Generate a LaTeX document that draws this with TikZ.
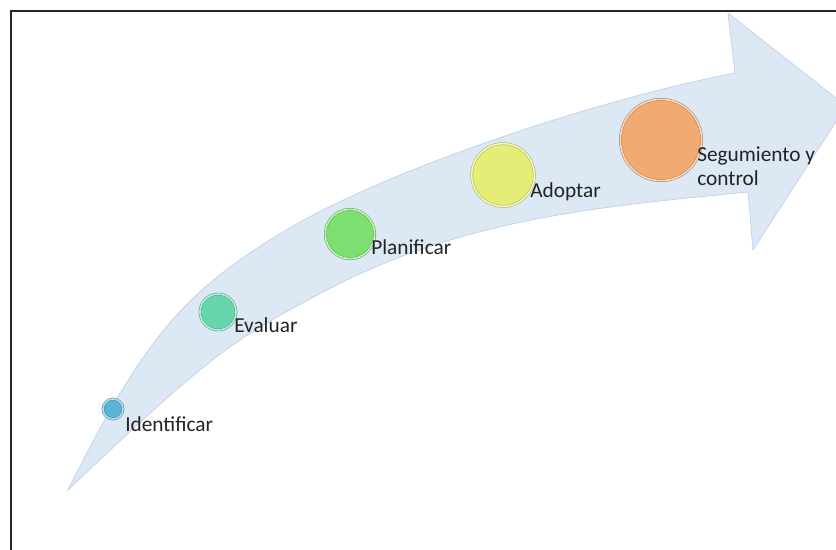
\documentclass[tikz,border=0pt]{standalone}
\usepackage{fontspec}
\setmainfont{Carlito}
\definecolor{bandfill}{RGB}{221,232,245}
\definecolor{bandedge}{RGB}{196,212,232}
\definecolor{labeltext}{RGB}{35,35,35}
\definecolor{stepA}{RGB}{92,180,216}
\definecolor{stepB}{RGB}{104,214,172}
\definecolor{stepC}{RGB}{124,224,112}
\definecolor{stepD}{RGB}{228,238,118}
\definecolor{stepE}{RGB}{240,170,114}
\tikzset{
  stepball/.style={circle, inner sep=0pt, minimum size=#1, line width=0.4pt, double distance=1.2pt},
  steplabel/.style={inner sep=0pt, text=labeltext, font=\fontsize{16}{18}\selectfont},
}
\begin{document}
\begin{tikzpicture}[x=0.75pt,y=-0.75pt]
  \useasboundingbox (0,0) rectangle (836,550);
  \clip (0,0) rectangle (836,550);
  % frame
  \draw[line width=2.2pt, black!85] (11,600) -- (11,11) -- (900,11);
  % curved arrow
  \filldraw[fill=bandfill, draw=bandedge, line width=0.6pt]
    (68,490) .. controls (143,340) and (183,292) .. (283,232)
    .. controls (383,171) and (595,100) .. (735,73)
    -- (728,13) -- (846,106) -- (753,250) -- (748,192)
    .. controls (608,206) and (465,217) .. (325,291)
    .. controls (230,341) and (208,357) .. (68,490)
    -- cycle;
  % steps
  \node[stepball=15, fill=stepA, draw=stepA!75!black, double=stepA!45!white] (a) at (113,409) {};
  \node[steplabel, anchor=base west] (la) at (125,431) {Identificar};
  \node[stepball=27, fill=stepB, draw=stepB!75!black, double=stepB!45!white] (b) at (218,312) {};
  \node[steplabel, anchor=base west] (lb) at (234,332) {Evaluar};
  \node[stepball=37, fill=stepC, draw=stepC!75!black, double=stepC!45!white] (c) at (350,234) {};
  \node[steplabel, anchor=base west] (lc) at (371,254) {Planificar};
  \node[stepball=47, fill=stepD, draw=stepD!75!black, double=stepD!45!white] (d) at (503,175) {};
  \node[steplabel, anchor=base west] (ld) at (530,197) {Adoptar};
  \node[stepball=61, fill=stepE, draw=stepE!75!black, double=stepE!45!white] (e) at (661,140) {};
  \node[steplabel, anchor=north west, align=left] (le) at (697,147) {Segumiento y\\control};
\end{tikzpicture}
\end{document}
